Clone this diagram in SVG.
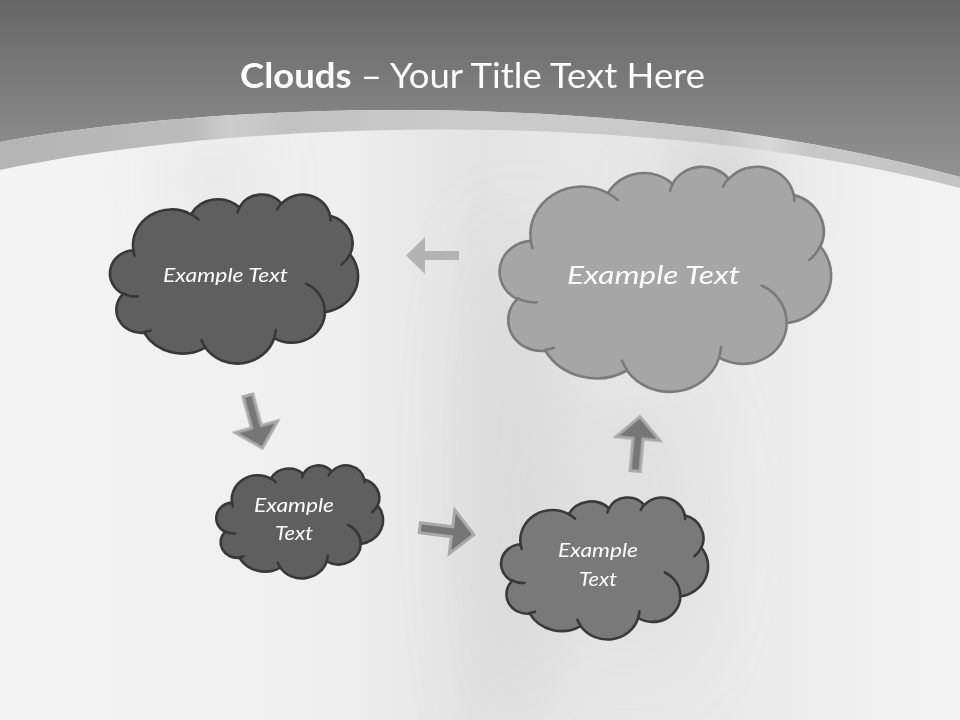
<svg xmlns="http://www.w3.org/2000/svg" width="960" height="720" viewBox="0 0 960 720">
<defs>
<style>
.cl{stroke-width:2.6;stroke-linejoin:round;vector-effect:non-scaling-stroke}
.inner{fill:none;stroke-width:2.6;stroke-linecap:round;vector-effect:non-scaling-stroke}
.dark{fill:#5f5f5f;stroke:#383838}
.mid{fill:#797979;stroke:#3a3a3a}
.light{fill:#a6a6a6;stroke:#7b7b7b}
.din{stroke:#383838}
.lin{stroke:#7b7b7b}
.txt{font-family:Lato,"Open Sans",sans-serif;font-style:italic;fill:#ffffff;text-anchor:middle}
.arrow{fill:#767676;stroke:#a9a9a9;stroke-width:3;stroke-linejoin:miter}
</style>
<linearGradient id="hdr" x1="0" y1="0" x2="0" y2="190" gradientUnits="userSpaceOnUse">
<stop offset="0" stop-color="#666666"/>
<stop offset="1" stop-color="#969696"/>
</linearGradient>
<linearGradient id="band" x1="0" y1="0" x2="960" y2="0" gradientUnits="userSpaceOnUse">
<stop offset="0" stop-color="#b4b4b4"/>
<stop offset="0.2" stop-color="#bcbcbc"/>
<stop offset="0.24" stop-color="#cdcdcd"/>
<stop offset="0.3" stop-color="#c2c2c2"/>
<stop offset="0.45" stop-color="#c9c9c9"/>
<stop offset="0.6" stop-color="#cbcbcb"/>
<stop offset="0.75" stop-color="#c6c6c6"/>
<stop offset="0.8" stop-color="#d8d8d8"/>
<stop offset="0.84" stop-color="#c8c8c8"/>
<stop offset="1" stop-color="#c4c4c4"/>
</linearGradient>
<linearGradient id="main" x1="0" y1="0" x2="960" y2="0" gradientUnits="userSpaceOnUse">
<stop offset="0" stop-color="#f4f4f4"/>
<stop offset="0.35" stop-color="#efefef"/>
<stop offset="0.5" stop-color="#e3e3e3"/>
<stop offset="0.58" stop-color="#e7e7e7"/>
<stop offset="0.75" stop-color="#e9e9e9"/>
<stop offset="1" stop-color="#f4f4f4"/>
</linearGradient>
<filter id="blur" x="-100%" y="-100%" width="300%" height="300%">
<feGaussianBlur stdDeviation="38"/>
</filter>
</defs>

<rect width="960" height="720" fill="url(#main)"/>
<g filter="url(#blur)">
<ellipse cx="520" cy="480" rx="35" ry="250" fill="#cbcbcb" opacity="0.55"/>
<ellipse cx="720" cy="180" rx="40" ry="60" fill="#bababa" opacity="0.5"/>
<ellipse cx="215" cy="180" rx="22" ry="45" fill="#c6c6c6" opacity="0.45"/>
<ellipse cx="640" cy="520" rx="60" ry="150" fill="#d6d6d6" opacity="0.45"/>
</g>
<path d="M0,0 H960 V177 C650,92 250,97 0,142 Z" fill="url(#hdr)"/>
<path d="M0,142 C250,97 650,92 960,177 L960,188 C650,108 250,118 0,170 Z" fill="url(#band)"/>

<text x="472.5" y="88" textLength="465" lengthAdjust="spacingAndGlyphs" font-family="Lato,'Open Sans',sans-serif" font-size="35" fill="#ffffff" text-anchor="middle"><tspan font-weight="bold">Clouds</tspan> – Your Title Text Here</text>

<g id="connectors">
<path d="M459,251 L425,251 L425,237 L406,255.5 L425,274 L425,260 L459,260 Z" fill="#b3b3b3"/>
<path class="arrow" transform="translate(247.5,394) rotate(74.7)" d="M1.5,-5 L34,-5 L34,-22 L56,0 L34,22 L34,5 L1.5,5 Z"/>
<path class="arrow" transform="translate(418.3,527.5) rotate(7.3)" d="M1.5,-5 L34,-5 L34,-22 L56,0 L34,22 L34,5 L1.5,5 Z"/>
<path class="arrow" transform="translate(635,472.5) rotate(-85)" d="M1.5,-5 L34,-5 L34,-22 L56,0 L34,22 L34,5 L1.5,5 Z"/>
</g>

<g id="cloud-top-left">
<g transform="translate(111,194) scale(2.47,1.69)">
<path class="cl dark" d="M9.03,33.26 A15.63,21.27 0 0 1 32.42,12.04 A12.35,16.82 0 0 1 51.99,7.94 A10.10,13.76 0 0 1 69.06,5.74 A11.24,15.27 0 0 1 88.70,12.90 A12.35,16.84 0 0 1 96.80,35.78 A15.68,21.34 0 0 1 86.59,69.91 A13.39,18.21 0 0 1 66.11,85.21 A15.63,21.33 0 0 1 38.16,90.89 A17.87,24.41 0 0 1 13.44,82.10 A10.09,13.70 0 0 1 4.89,59.14 A10.06,13.76 0 0 1 9.03,33.26 Z"/>
<path class="inner din" d="M10.86,60.59 A10.06,13.76 0 0 1 5.00,58.75 M16.04,80.78 A10.09,13.70 0 0 1 13.47,81.67 M38.14,90.49 A15.63,21.33 0 0 1 36.60,86.46 M66.73,80.44 A15.63,21.33 0 0 1 66.11,84.86 M79.00,53.13 A13.39,18.21 0 0 1 86.53,69.65 M96.75,35.54 A12.35,16.84 0 0 1 93.40,41.74 M88.71,12.56 A11.24,15.27 0 0 1 88.89,15.49 M67.31,9.15 A11.24,15.27 0 0 1 69.03,5.42 M51.25,10.93 A10.10,13.76 0 0 1 52.08,7.71 M32.41,12.02 A15.63,21.27 0 0 1 35.42,15.14 M9.55,36.55 A15.63,21.27 0 0 1 9.03,33.27"/>
</g>
<text class="txt" x="225.5" y="281.5" font-size="19" textLength="125" lengthAdjust="spacingAndGlyphs">Example Text</text>
</g>

<g id="cloud-large">
<g transform="translate(501,166) scale(3.30,2.25)">
<path class="cl light" d="M9.03,33.26 A15.63,21.27 0 0 1 32.42,12.04 A12.35,16.82 0 0 1 51.99,7.94 A10.10,13.76 0 0 1 69.06,5.74 A11.24,15.27 0 0 1 88.70,12.90 A12.35,16.84 0 0 1 96.80,35.78 A15.68,21.34 0 0 1 86.59,69.91 A13.39,18.21 0 0 1 66.11,85.21 A15.63,21.33 0 0 1 38.16,90.89 A17.87,24.41 0 0 1 13.44,82.10 A10.09,13.70 0 0 1 4.89,59.14 A10.06,13.76 0 0 1 9.03,33.26 Z"/>
<path class="inner lin" d="M10.86,60.59 A10.06,13.76 0 0 1 5.00,58.75 M16.04,80.78 A10.09,13.70 0 0 1 13.47,81.67 M38.14,90.49 A15.63,21.33 0 0 1 36.60,86.46 M66.73,80.44 A15.63,21.33 0 0 1 66.11,84.86 M79.00,53.13 A13.39,18.21 0 0 1 86.53,69.65 M96.75,35.54 A12.35,16.84 0 0 1 93.40,41.74 M88.71,12.56 A11.24,15.27 0 0 1 88.89,15.49 M67.31,9.15 A11.24,15.27 0 0 1 69.03,5.42 M51.25,10.93 A10.10,13.76 0 0 1 52.08,7.71 M32.41,12.02 A15.63,21.27 0 0 1 35.42,15.14 M9.55,36.55 A15.63,21.27 0 0 1 9.03,33.27"/>
</g>
<text class="txt" x="653.5" y="284" font-size="26" textLength="173" lengthAdjust="spacingAndGlyphs">Example Text</text>
</g>

<g id="cloud-small">
<g transform="translate(217,465) scale(1.66,1.13)">
<path class="cl dark" d="M9.03,33.26 A15.63,21.27 0 0 1 32.42,12.04 A12.35,16.82 0 0 1 51.99,7.94 A10.10,13.76 0 0 1 69.06,5.74 A11.24,15.27 0 0 1 88.70,12.90 A12.35,16.84 0 0 1 96.80,35.78 A15.68,21.34 0 0 1 86.59,69.91 A13.39,18.21 0 0 1 66.11,85.21 A15.63,21.33 0 0 1 38.16,90.89 A17.87,24.41 0 0 1 13.44,82.10 A10.09,13.70 0 0 1 4.89,59.14 A10.06,13.76 0 0 1 9.03,33.26 Z"/>
<path class="inner din" d="M10.86,60.59 A10.06,13.76 0 0 1 5.00,58.75 M16.04,80.78 A10.09,13.70 0 0 1 13.47,81.67 M38.14,90.49 A15.63,21.33 0 0 1 36.60,86.46 M66.73,80.44 A15.63,21.33 0 0 1 66.11,84.86 M79.00,53.13 A13.39,18.21 0 0 1 86.53,69.65 M96.75,35.54 A12.35,16.84 0 0 1 93.40,41.74 M88.71,12.56 A11.24,15.27 0 0 1 88.89,15.49 M67.31,9.15 A11.24,15.27 0 0 1 69.03,5.42 M51.25,10.93 A10.10,13.76 0 0 1 52.08,7.71 M32.41,12.02 A15.63,21.27 0 0 1 35.42,15.14 M9.55,36.55 A15.63,21.27 0 0 1 9.03,33.27"/>
</g>
<text class="txt" font-size="19"><tspan x="294" y="511.5" textLength="80" lengthAdjust="spacingAndGlyphs">Example</tspan><tspan x="294" y="540" textLength="38" lengthAdjust="spacingAndGlyphs">Text</tspan></text>
</g>

<g id="cloud-bottom-right">
<g transform="translate(502,497) scale(2.06,1.42)">
<path class="cl mid" d="M9.03,33.26 A15.63,21.27 0 0 1 32.42,12.04 A12.35,16.82 0 0 1 51.99,7.94 A10.10,13.76 0 0 1 69.06,5.74 A11.24,15.27 0 0 1 88.70,12.90 A12.35,16.84 0 0 1 96.80,35.78 A15.68,21.34 0 0 1 86.59,69.91 A13.39,18.21 0 0 1 66.11,85.21 A15.63,21.33 0 0 1 38.16,90.89 A17.87,24.41 0 0 1 13.44,82.10 A10.09,13.70 0 0 1 4.89,59.14 A10.06,13.76 0 0 1 9.03,33.26 Z"/>
<path class="inner din" d="M10.86,60.59 A10.06,13.76 0 0 1 5.00,58.75 M16.04,80.78 A10.09,13.70 0 0 1 13.47,81.67 M38.14,90.49 A15.63,21.33 0 0 1 36.60,86.46 M66.73,80.44 A15.63,21.33 0 0 1 66.11,84.86 M79.00,53.13 A13.39,18.21 0 0 1 86.53,69.65 M96.75,35.54 A12.35,16.84 0 0 1 93.40,41.74 M88.71,12.56 A11.24,15.27 0 0 1 88.89,15.49 M67.31,9.15 A11.24,15.27 0 0 1 69.03,5.42 M51.25,10.93 A10.10,13.76 0 0 1 52.08,7.71 M32.41,12.02 A15.63,21.27 0 0 1 35.42,15.14 M9.55,36.55 A15.63,21.27 0 0 1 9.03,33.27"/>
</g>
<text class="txt" font-size="19"><tspan x="598" y="557" textLength="80" lengthAdjust="spacingAndGlyphs">Example</tspan><tspan x="598" y="586" textLength="38" lengthAdjust="spacingAndGlyphs">Text</tspan></text>
</g>
</svg>
